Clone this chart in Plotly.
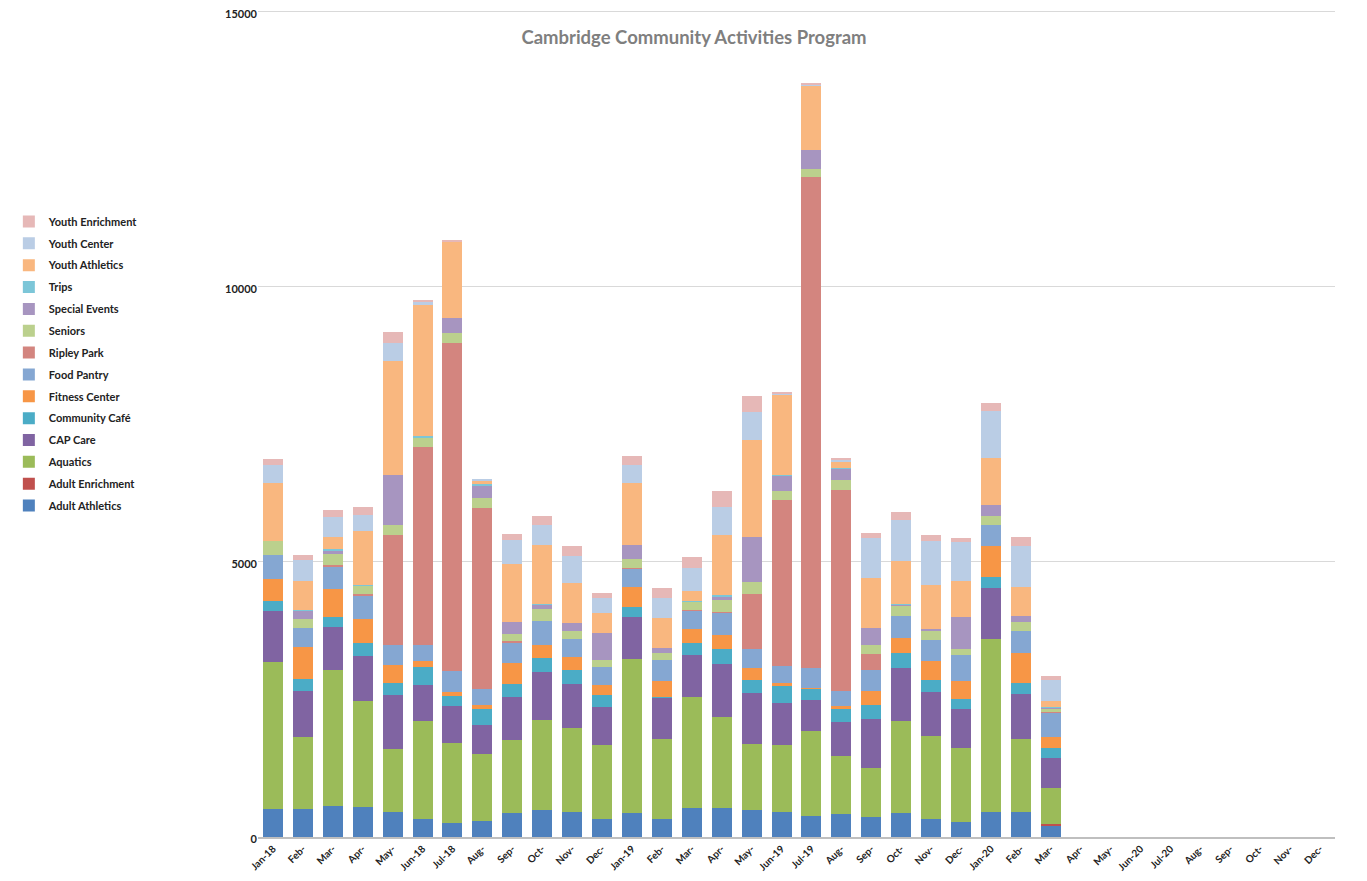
import plotly.graph_objects as go

months = ["Jan-18", "Feb-", "Mar-", "Apr-", "May-", "Jun-18", "Jul-18", "Aug-", "Sep-", "Oct-", "Nov-", "Dec-",
          "Jan-19", "Feb-", "Mar-", "Apr-", "May-", "Jun-19", "Jul-19", "Aug-", "Sep-", "Oct-", "Nov-", "Dec-",
          "Jan-20", "Feb-", "Mar-", "Apr-", "May-", "Jun-20", "Jul-20", "Aug-", "Sep-", "Oct-", "Nov-", "Dec-"]
keys = [f"{y}-{m:02d}" for y in (2018, 2019, 2020) for m in range(1, 13)]

adult_athletics = [515, 515, 570, 551, 461, 333, 261, 297, 442, 497, 461, 333, 442, 333, 533, 533, 491, 455, 382, 418, 370, 442, 333, 279, 455, 461, 206]
adult_enrichment = [0, 0, 0, 0, 0, 0, 0, 0, 0, 0, 0, 0, 0, 0, 0, 0, 0, 0, 0, 0, 0, 0, 0, 0, 0, 0, 24]
aquatics = [2672, 1297, 2472, 1927, 1145, 1782, 1454, 1218, 1327, 1636, 1527, 1345, 2800, 1454, 2018, 1654, 1200, 1218, 1545, 1054, 891, 1673, 1509, 1345, 3145, 1327, 667]
cap_care = [927, 848, 782, 818, 982, 654, 673, 527, 782, 873, 800, 691, 764, 745, 764, 964, 921, 764, 564, 618, 891, 964, 800, 709, 927, 818, 545]
community_cafe = [182, 218, 182, 236, 218, 327, 182, 291, 236, 255, 255, 218, 170, 18, 218, 273, 248, 309, 200, 236, 255, 273, 218, 182, 200, 200, 182]
fitness_center = [388, 582, 497, 436, 327, 109, 73, 73, 370, 224, 236, 182, 376, 291, 242, 242, 212, 55, 18, 55, 255, 273, 345, 315, 570, 533, 200]
food_pantry = [448, 345, 412, 424, 364, 291, 382, 291, 376, 448, 327, 327, 327, 382, 339, 412, 345, 315, 364, 273, 382, 400, 382, 485, 376, 412, 436]
ripley_park = [0, 0, 24, 18, 2000, 3600, 5963, 3291, 36, 0, 0, 0, 18, 0, 18, 18, 1000, 3012, 8926, 3654, 291, 0, 0, 0, 0, 0, 18]
seniors = [242, 164, 212, 164, 182, 170, 182, 182, 127, 218, 145, 127, 164, 127, 145, 218, 218, 164, 145, 182, 164, 182, 164, 109, 164, 164, 55]
special_events = [0, 145, 55, 0, 909, 0, 255, 224, 218, 73, 145, 491, 255, 91, 0, 55, 818, 278, 340, 200, 291, 18, 36, 582, 200, 109, 18]
trips = [0, 18, 24, 12, 0, 30, 0, 18, 0, 18, 0, 0, 0, 0, 18, 24, 0, 18, 0, 18, 0, 18, 0, 0, 0, 0, 18]
youth_athletics = [1054, 515, 230, 970, 2073, 2369, 1394, 67, 1054, 1061, 727, 364, 1115, 545, 182, 1103, 1763, 1454, 1169, 109, 909, 782, 788, 654, 855, 527, 109]
youth_center = [339, 382, 351, 303, 327, 73, 0, 18, 430, 364, 485, 273, 327, 364, 418, 497, 515, 18, 30, 36, 733, 733, 806, 697, 860, 733, 382]
youth_enrichment = [103, 97, 139, 139, 194, 18, 18, 0, 103, 176, 176, 91, 164, 170, 188, 291, 291, 12, 9, 18, 91, 145, 103, 73, 145, 164, 73]

series = [
    ("Adult Athletics", adult_athletics, "#4F81BD"),
    ("Adult Enrichment", adult_enrichment, "#C0504D"),
    ("Aquatics", aquatics, "#9BBB59"),
    ("CAP Care", cap_care, "#8064A2"),
    ("Community Café", community_cafe, "#4BACC6"),
    ("Fitness Center", fitness_center, "#F79646"),
    ("Food Pantry", food_pantry, "#85A7D2"),
    ("Ripley Park", ripley_park, "#D3857F"),
    ("Seniors", seniors, "#BBD08D"),
    ("Special Events", special_events, "#A795C0"),
    ("Trips", trips, "#7CC6D8"),
    ("Youth Athletics", youth_athletics, "#F9B77F"),
    ("Youth Center", youth_center, "#BACDE5"),
    ("Youth Enrichment", youth_enrichment, "#E6B8B7"),
]

fig = go.Figure()
for i, (name, vals, color) in enumerate(series):
    padded = list(vals) + [None] * (len(keys) - len(vals))
    fig.add_trace(go.Bar(x=keys, y=padded, name=name, marker_color=color,
                         marker_line_width=0, legendgroup=name,
                         legendrank=1000 - 10 * i))

W, H = 1351, 865
ML, MR, MT, MB = 242, 24, 1, 36
PW = W - ML - MR
PH = H - MT - MB
FONT = "Lato, 'Liberation Sans', sans-serif"
fig.update_layout(
    width=W, height=H,
    barmode="stack", bargap=0.33,
    plot_bgcolor="white", paper_bgcolor="white",
    margin=dict(l=ML, r=MR, t=MT, b=MB),
    font=dict(family=FONT, size=11, color="#222222"),
    title=dict(text="Cambridge Community Activities Program", x=686 / W, xref="container",
               y=1 - 30 / H, yref="container", yanchor="middle", xanchor="center",
               font=dict(family=FONT, size=18.5, color="#7F7F7F", weight="bold")),
    legend=dict(xref="paper", yref="paper", x=(-9 - ML) / PW, y=1 + (MT - 199) / PH,
                xanchor="left", yanchor="top", traceorder="grouped", tracegroupgap=2.85,
                font=dict(family=FONT, size=11, color="#222222", weight="bold"),
                itemwidth=30, bgcolor="rgba(0,0,0,0)"),
    xaxis=dict(type="category", categoryorder="array", categoryarray=keys,
               tickmode="array", tickvals=keys, ticktext=months, tickangle=-45,
               tickfont=dict(family=FONT, size=10, color="#222222", weight="bold"),
               showline=True, linecolor="#BFBFBF", linewidth=2, showgrid=False,
               ticks="", automargin=False, range=[-0.5, 35.5]),
    yaxis=dict(range=[0, 15050], tickmode="array", tickvals=[0, 5000, 10000, 15000],
               tickformat="d", showgrid=True, gridcolor="#D9D9D9", gridwidth=1,
               tickfont=dict(family=FONT, size=11, color="#222222", weight="bold"),
               ticklabeloverflow="allow", ticklabelshift=2,
               zeroline=False, showline=False, ticks="", automargin=False),
)

fig.write_html("out.html")
